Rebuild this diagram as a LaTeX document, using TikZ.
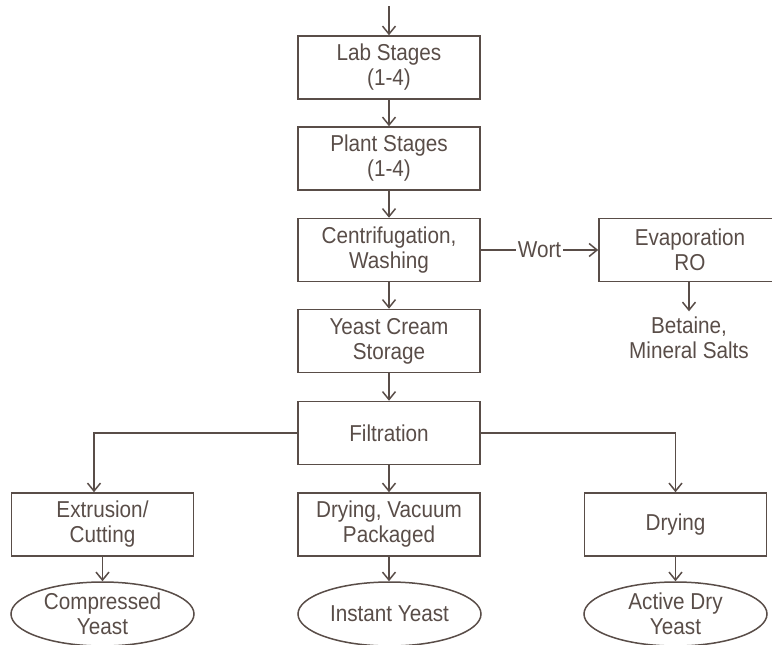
\documentclass[tikz,border=0pt]{standalone}
\usepackage{fontspec}
\setmainfont[FakeStretch=0.9]{Liberation Sans}
\usetikzlibrary{arrows.meta,shapes.geometric}
\definecolor{ink}{RGB}{89,77,72}

\begin{document}
\begin{tikzpicture}[x=1pt, y=-1pt, color=ink, line width=1.5pt]
\fontsize{23}{25}\selectfont
\tikzset{
  StepBox/.style = {draw, rectangle, minimum width=182pt, minimum height=63pt,
                    inner sep=2pt, align=center},
  ProductStyle/.style = {draw, ellipse, minimum width=183pt, minimum height=64pt,
                         inner sep=0pt, align=center},
  FlowStyle/.style = {-{Straight Barb[length=8pt,width=13pt]}},
}

  \useasboundingbox (0,0) rectangle (772,645);
  \clip (0,0) rectangle (772,645);

  \coordinate (In) at (389,6);
  \node[StepBox] (Lab)   at (389,67.5)  {Lab Stages\\(1-4)};
  \node[StepBox] (Plant) at (389,158.5) {Plant Stages\\(1-4)};
  \node[StepBox] (Centr) at (389,250)   {Centrifugation,\\Washing};
  \node[StepBox] (Cream) at (389,341)   {Yeast Cream\\Storage};
  \node[StepBox] (Filt)  at (389,433)   {Filtration};

  \node[StepBox] (Evap) at (690,250) {Evaporation\\RO};
  \node[align=center, inner sep=5pt] (Salts) at (689,338) {Betaine,\\Mineral Salts};

  \node[StepBox] (Extr) at (102.5,524.5) {Extrusion/\\Cutting};
  \node[StepBox] (Vac)  at (389,524.5)   {Drying, Vacuum\\Packaged};
  \node[StepBox] (Dry)  at (675.5,524.5) {Drying};

  \begin{scope}
    \tikzset{ProductStyle/.append style = {text depth=0pt}}
    \node[ProductStyle] (Comp) at (102.5,614) {Compressed\\Yeast};
    \node[ProductStyle] (Inst) at (389.5,614) {Instant Yeast};
    \node[ProductStyle] (Act)  at (675.5,614) {Active Dry\\Yeast};
  \end{scope}

  \draw[FlowStyle] (In) -- (Lab);
  \draw[FlowStyle] (Lab) -- (Plant);
  \draw[FlowStyle] (Plant) -- (Centr);
  \draw[FlowStyle] (Centr) -- (Cream);
  \draw[FlowStyle] (Cream) -- (Filt);
  \draw[FlowStyle] (Centr) -- node[fill=white, inner sep=2pt] {Wort} (Evap);
  \draw[FlowStyle] (Evap.south -| Salts) -- (Salts);

  \draw[FlowStyle] (Filt.west) -| ([xshift=-8.5pt]Extr.north);
  \draw[FlowStyle] (Filt) -- (Vac);
  \draw[FlowStyle] (Filt.east) -| (Dry);

  \draw[FlowStyle] (Extr) -- (Comp);
  \draw[FlowStyle] (Vac) -- (Vac |- Inst.north);
  \draw[FlowStyle] (Dry) -- (Act);

\end{tikzpicture}
\end{document}
